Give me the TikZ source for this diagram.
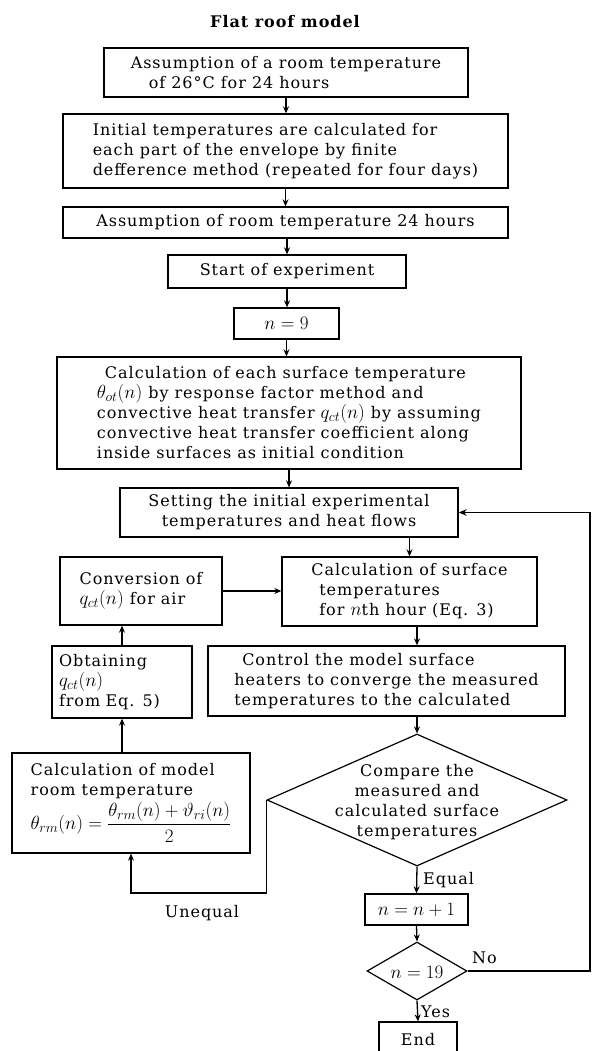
\RequirePackage{fix-cm}
\documentclass[tikz,border=0pt]{standalone}
\usepackage{amsmath}
\usepackage{fontspec}
\setmainfont{DejaVu Serif}[LetterSpace=6]
\DeclareMathSizes{16}{19}{14}{11}
\usetikzlibrary{arrows.meta,shapes.geometric}
\begin{document}
\begin{tikzpicture}[x=1pt,y=-1pt,
  every node/.style={font=\fontsize{16}{20}\selectfont, inner sep=0pt},
  box/.style={draw, line width=1.3pt, inner sep=0pt},
  dia/.style={draw, diamond, line width=1.2pt, inner sep=0pt},
  arr/.style={line width=1.3pt, -{Stealth[length=7pt,width=6pt]}},
  loop/.style={line width=1.6pt, -{Stealth[length=8pt,width=6.5pt]}}
]
\useasboundingbox[fill=white] (0,0) rectangle (601,1051);

\node[font=\bfseries\fontsize{16}{18}\selectfont] (title) at (285,22) {Flat roof model};

\node[box, minimum width=364pt, minimum height=49pt, align=left] (b1) at (286,72.5)
  {Assumption of a room temperature\\\hspace*{18pt}of 26°C for 24 hours};
\node[box, minimum width=445pt, minimum height=74pt, align=left] (b2) at (285.5,151)
  {Initial temperatures are calculated for\\each part of the envelope by finite\\defference method (repeated for four days)};
\node[box, minimum width=445pt, minimum height=31pt] (b3) at (285.5,222.5)
  {Assumption of room temperature 24 hours};
\node[box, minimum width=238pt, minimum height=33pt] (b4) at (287,271.5)
  {Start of experiment};
\node[box, minimum width=105pt, minimum height=31pt] (b5) at (286.5,323.5) {$n=9$};
\node[box, minimum width=464pt, minimum height=112pt, align=left] (b6) at (289,413)
  {\hspace*{8pt}Calculation of each surface temperature\\$\theta_{ot}(n)$ by response factor method and\\convective heat transfer $q_{ct}(n)$ by assuming\\convective heat transfer coefficient along\\inside surfaces as initial condition};
\node[box, minimum width=338pt, minimum height=49pt, align=center] (b7) at (289,512.5)
  {Setting the initial experimental\\temperatures and heat flows};
\node[box, minimum width=255pt, minimum height=69pt, align=left] (b8) at (409.5,591.5)
  {Calculation of surface\\\hspace*{8pt}temperatures\\\hspace*{8pt}for $n$th hour (Eq. 3)};
\node[box, minimum width=162pt, minimum height=68pt, align=left] (b9) at (141,591)
  {Conversion of\\$q_{ct}(n)$ for air};
\node[box, minimum width=140pt, minimum height=72pt, align=left, text width=126pt] (b10) at (122,682)
  {Obtaining\\$q_{ct}(n)$\\from Eq. 5)};
\node[box, minimum width=357pt, minimum height=70pt, align=left] (b11) at (386.5,681)
  {\hspace*{8pt}Control the model surface\\heaters to converge the measured\\temperatures to the calculated};
\node[box, minimum width=238pt, minimum height=100pt, align=left] (b12) at (131,803)
  {Calculation of model\\room temperature\\[2pt]$\theta_{rm}(n)=\dfrac{\theta_{rm}(n)+\vartheta_{ri}(n)}{2}$};

\node[dia, minimum width=300pt, minimum height=132pt] (d1) at (417,800) {};
\node[align=center] (d1t) at (417,802) {Compare the\\measured and\\calculated surface\\temperatures};
\node[box, minimum width=103pt, minimum height=31pt] (b13) at (416.5,909.5) {$n=n+1$};
\node[dia, minimum width=100pt, minimum height=58pt] (d2) at (417,971) {};
\node (d2t) at (417,972) {$n=19$};
\node[box, minimum width=78pt, minimum height=36pt] (end) at (418,1040) {End};

\node (uneq) at (202,913) {Unequal};
\node[anchor=west] (eq) at (423,880) {Equal};
\node[anchor=west] (no) at (472,958) {No};
\node[anchor=west] (yes) at (421,1012) {Yes};

\coordinate (ubot) at (0,893);
\coordinate (nright) at (590,0);

\draw[arr] (b1.south) -- (b1.south |- b2.north);
\draw[arr] (b2.south) -- (b2.south |- b3.north);
\draw[arr] (b3.south -| b4.north) -- (b4.north);
\draw[arr] (b4.south) -- (b4.south |- b5.north);
\draw[arr] (b5.south) -- (b5.south |- b6.north);
\draw[arr] (b6.south) -- (b6.south |- b7.north);
\draw[arr] (b7.south -| b8.north) -- (b8.north);
\draw[arr] (b8.south -| d1.north) -- (d1.north |- b11.north);
\draw[arr] (b11.south -| d1.north) -- (d1.north);
\draw[arr] (b9.east) -- (b9.east -| b8.west);
\draw[arr] (b10.north) -- (b10.north |- b9.south);
\draw[arr] (b12.north -| b10.south) -- (b10.south);
\draw[arr] (d1.west) -- (d1.west |- ubot) -| (b12.south);
\draw[arr] (d1.south) -- (b13.north);
\draw[arr] (b13.south) -- (d2.north);
\draw[arr] (d2.south) -- (end.north);
\draw[loop] (d2.east) -- (d2.east -| nright) -- (nright |- b7.east) -- (b7.east);
\end{tikzpicture}
\end{document}
